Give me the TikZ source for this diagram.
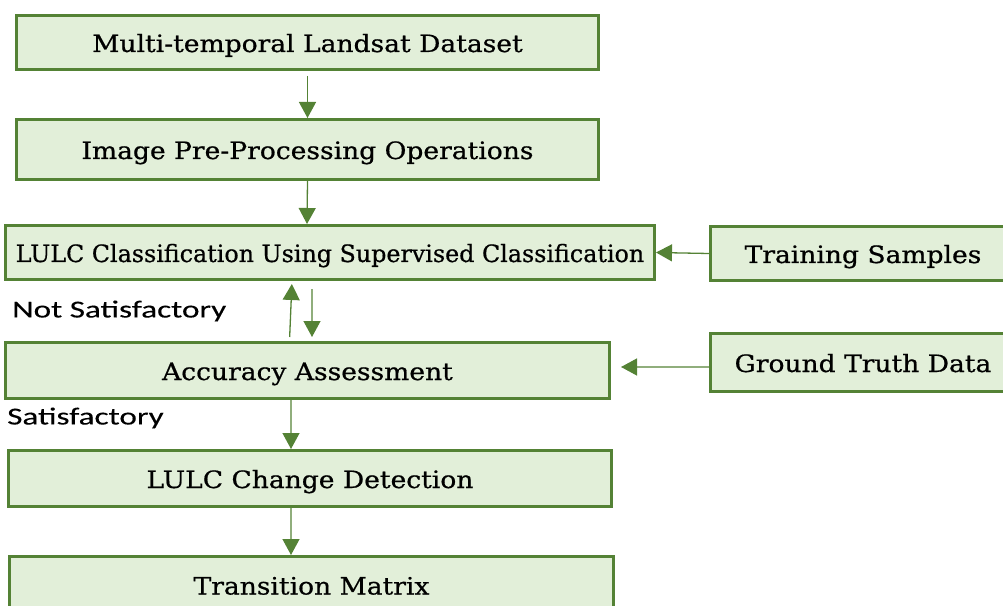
\documentclass[tikz,border=0pt]{standalone}
\usepackage{fontspec}
\usepackage{xcolor}
\usepackage{graphicx}
\usetikzlibrary{arrows.meta}
\setmainfont{DejaVu Serif}
\newfontfamily\boxFont{DejaVu Serif}[FakeBold=0.6]
\newfontfamily\labelFont{Carlito}[FakeBold=0.2]
\definecolor{boxBgColor}{HTML}{E2EFD9}
\definecolor{boxLineColor}{HTML}{548235}
\definecolor{linkColor}{HTML}{548235}
\definecolor{labelTextColor}{HTML}{000000}
\newcommand{\boxWide}[2][1.11]{\scalebox{#1}[1]{#2}}
\newcommand{\labelWide}[1]{\scalebox{1.36}[1]{#1}}
\def\boxTextA{Multi-temporal Landsat Dataset}
\def\boxTextB{Image Pre-Processing Operations}
\def\boxTextC{LULC Classification Using Supervised Classification}
\def\boxTextD{Training Samples}
\def\boxTextE{Accuracy Assessment}
\def\boxTextF{Ground Truth Data}
\def\boxTextG{LULC Change Detection}
\def\boxTextH{Transition Matrix}
\def\labelTextA{Not Satisfactory}
\def\labelTextB{Satisfactory}

\begin{document}
\begin{tikzpicture}[x=1bp,y=-1bp,
  box/.style={draw=boxLineColor, line width=3bp, fill=boxBgColor,
    inner sep=0pt, text height=21bp, text depth=2bp, text=labelTextColor,
    font=\boxFont\fontsize{24}{28}\selectfont},
  link/.style={draw=linkColor, line width=1.3bp,
    -{Triangle[length=16bp, width=17bp]}},
  flowLabel/.style={inner sep=0pt, anchor=west, text=labelTextColor,
    font=\labelFont\fontsize{24.5}{28}\selectfont}]

\useasboundingbox (0, 0) rectangle (1003, 606);

% box layer
\begin{scope}
\node[box, minimum width=582bp, minimum height=54bp] (A) at (307.5, 42.5) {\boxWide{\boxTextA}};
\node[box, minimum width=582bp, minimum height=60bp] (B) at (307.5, 149.5) {\boxWide{\boxTextB}};
\node[box, minimum width=649bp, minimum height=54bp] (C) at (330, 252.5) {\boxWide[0.995]{\boxTextC}};
\node[box, minimum width=305bp, minimum height=54bp] (D) at (863, 253.5) {\boxWide{\boxTextD}};
\node[box, minimum width=604bp, minimum height=56bp] (E) at (307.5, 370.5) {\boxWide{\boxTextE}};
\node[box, minimum width=305bp, minimum height=58bp] (F) at (863, 362.5) {\boxWide{\boxTextF}};
\node[box, minimum width=603bp, minimum height=56bp] (G) at (310, 478.5) {\boxWide{\boxTextG}};
\node[box, minimum width=604bp, minimum height=57bp] (H) at (311.5, 585) {\boxWide{\boxTextH}};
\end{scope}

% link layer
\begin{scope}
\draw[link, shorten <=5bp] (A.south) -- (B.north);
\draw[link] (B.south) -- ([xshift=-23bp]C.north);
\draw[link, shorten <=4bp, shorten >=3bp] ([xshift=-18bp]E.north) -- ([xshift=-38bp]C.south);
\draw[link, shorten <=8bp, shorten >=4bp] ([xshift=-18bp]C.south) -- ([xshift=4.5bp]E.north);
\draw[link] (D.west) -- (C.east);
\draw[link, shorten >=10bp] ([yshift=-4.5bp]F.west) -- ([yshift=3.5bp]E.east);
\draw[link] ([xshift=-16.5bp]E.south) -- ([xshift=-19bp]G.north);
\draw[link] ([xshift=-19bp]G.south) -- ([xshift=-20.5bp]H.north);
\end{scope}

% label layer
\begin{scope}
\node[flowLabel] (notSat) at (12, 311) {\labelWide{\labelTextA}};
\node[flowLabel] (sat) at (7, 418) {\labelWide{\labelTextB}};
\end{scope}

\end{tikzpicture}
\end{document}
